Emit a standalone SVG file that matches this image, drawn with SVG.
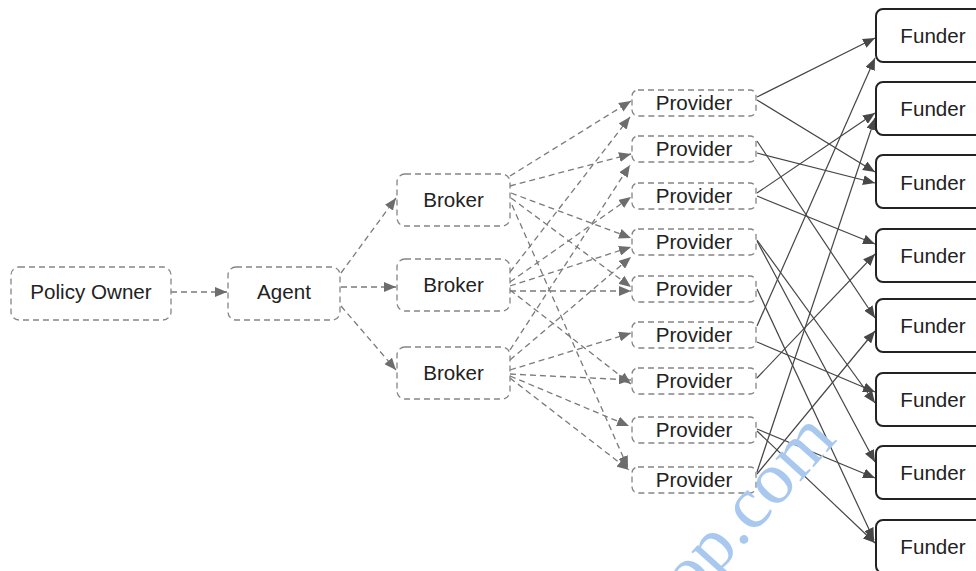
<svg xmlns="http://www.w3.org/2000/svg" width="976" height="571" viewBox="0 0 976 571">
<style>
  .dn{fill:#fff;stroke:#858585;stroke-width:1.3;stroke-dasharray:6 4}
  .sn{fill:#fff;stroke:#232323;stroke-width:2}
  .t{font-family:"Liberation Sans",Arial,sans-serif;font-size:20.6px;fill:#222;text-anchor:middle}
  .de{fill:none;stroke:#7a7a7a;stroke-width:1.3;stroke-dasharray:6 4}
  .se{fill:none;stroke:#454545;stroke-width:1.2}
  .wm{font-family:"Liberation Serif","Times New Roman",serif;font-size:74px;fill:#a9c8ef;text-anchor:end}
</style>
<defs>
  <marker id="ad" viewBox="0 0 12 10" refX="12" refY="5" markerWidth="12" markerHeight="10" markerUnits="userSpaceOnUse" orient="auto"><path d="M0,0 L12,5 L0,10 z" fill="#6d6d6d"/></marker>
  <marker id="as" viewBox="0 0 12 10" refX="12" refY="5" markerWidth="12" markerHeight="10" markerUnits="userSpaceOnUse" orient="auto"><path d="M0,0 L12,5 L0,10 z" fill="#474747"/></marker>
</defs>
<rect width="976" height="571" fill="#fff"/>

<g id="connectors">
  <g marker-end="url(#ad)">
    <path class="de" d="M171,292 L227,292"/>
    <path class="de" d="M341,273 L396,198"/>
    <path class="de" d="M341,287 L396,287"/>
    <path class="de" d="M341,306 L396,370"/>
    <path class="de" d="M510,176 L631,101"/>
    <path class="de" d="M510,186 L631,154"/>
    <path class="de" d="M511,193 L631,238"/>
    <path class="de" d="M511,198 L631,287"/>
    <path class="de" d="M512,205 L628,468"/>
    <path class="de" d="M510,272 L630,117"/>
    <path class="de" d="M510,282 L631,197"/>
    <path class="de" d="M510,286 L631,247"/>
    <path class="de" d="M510,291 L631,291"/>
    <path class="de" d="M510,290 L631,384"/>
    <path class="de" d="M510,350 L630,165"/>
    <path class="de" d="M510,360 L631,257"/>
    <path class="de" d="M510,370 L631,333"/>
    <path class="de" d="M510,374 L631,380"/>
    <path class="de" d="M510,376 L629,426"/>
    <path class="de" d="M510,378 L629,470"/>
  </g>
  <g marker-end="url(#as)">
    <path class="se" d="M757,97 L875,38"/>
    <path class="se" d="M757,100 L875,172"/>
    <path class="se" d="M757,153 L875,183"/>
    <path class="se" d="M757,141 L875,318"/>
    <path class="se" d="M757,193 L875,113"/>
    <path class="se" d="M757,196 L875,244"/>
    <path class="se" d="M757,240 L875,403"/>
    <path class="se" d="M757,241 L875,462"/>
    <path class="se" d="M757,289 L874,540"/>
    <path class="se" d="M757,326 L875,58"/>
    <path class="se" d="M757,342 L875,392"/>
    <path class="se" d="M757,378 L875,254"/>
    <path class="se" d="M757,429 L875,478"/>
    <path class="se" d="M757,431 L875,543"/>
    <path class="se" d="M757,472 L875,118"/>
    <path class="se" d="M757,474 L875,331"/>
  </g>
</g>

<g id="policy-owner"><rect class="dn" x="11" y="267" width="160" height="53" rx="8"/><text class="t" x="91" y="298.5">Policy Owner</text></g>
<g id="agent"><rect class="dn" x="228" y="267" width="112" height="53" rx="8"/><text class="t" x="284" y="298.5">Agent</text></g>

<g id="broker-1"><rect class="dn" x="397" y="174" width="113" height="52" rx="8"/><text class="t" x="453.5" y="207">Broker</text></g>
<g id="broker-2"><rect class="dn" x="397" y="259" width="113" height="52" rx="8"/><text class="t" x="453.5" y="292">Broker</text></g>
<g id="broker-3"><rect class="dn" x="397" y="347" width="113" height="52" rx="8"/><text class="t" x="453.5" y="380">Broker</text></g>

<g id="provider-1"><rect class="dn" x="632" y="90" width="124" height="26" rx="6"/><text class="t" x="694" y="110">Provider</text></g>
<g id="provider-2"><rect class="dn" x="632" y="136" width="124" height="26" rx="6"/><text class="t" x="694" y="156">Provider</text></g>
<g id="provider-3"><rect class="dn" x="632" y="183" width="124" height="26" rx="6"/><text class="t" x="694" y="203">Provider</text></g>
<g id="provider-4"><rect class="dn" x="632" y="229" width="124" height="26" rx="6"/><text class="t" x="694" y="249">Provider</text></g>
<g id="provider-5"><rect class="dn" x="632" y="276" width="124" height="26" rx="6"/><text class="t" x="694" y="296">Provider</text></g>
<g id="provider-6"><rect class="dn" x="632" y="322" width="124" height="26" rx="6"/><text class="t" x="694" y="342">Provider</text></g>
<g id="provider-7"><rect class="dn" x="632" y="368" width="124" height="26" rx="6"/><text class="t" x="694" y="388">Provider</text></g>
<g id="provider-8"><rect class="dn" x="632" y="417" width="124" height="26" rx="6"/><text class="t" x="694" y="437">Provider</text></g>
<g id="provider-9"><rect class="dn" x="632" y="467" width="124" height="26" rx="6"/><text class="t" x="694" y="487">Provider</text></g>

<g id="funder-1"><rect class="sn" x="876" y="9" width="116" height="53" rx="7"/><text class="t" x="933" y="43">Funder</text></g>
<g id="funder-2"><rect class="sn" x="876" y="82" width="116" height="53" rx="7"/><text class="t" x="933" y="116">Funder</text></g>
<g id="funder-3"><rect class="sn" x="876" y="155" width="116" height="53" rx="7"/><text class="t" x="933" y="189.5">Funder</text></g>
<g id="funder-4"><rect class="sn" x="876" y="229" width="116" height="53" rx="7"/><text class="t" x="933" y="263">Funder</text></g>
<g id="funder-5"><rect class="sn" x="876" y="299" width="116" height="53" rx="7"/><text class="t" x="933" y="333">Funder</text></g>
<g id="funder-6"><rect class="sn" x="876" y="373" width="116" height="53" rx="7"/><text class="t" x="933" y="407">Funder</text></g>
<g id="funder-7"><rect class="sn" x="876" y="446" width="116" height="53" rx="7"/><text class="t" x="933" y="480">Funder</text></g>
<g id="funder-8"><rect class="sn" x="876" y="520" width="116" height="53" rx="7"/><text class="t" x="933" y="554">Funder</text></g>

<text class="wm" transform="translate(838,440) rotate(-48)">op.com</text>
</svg>
